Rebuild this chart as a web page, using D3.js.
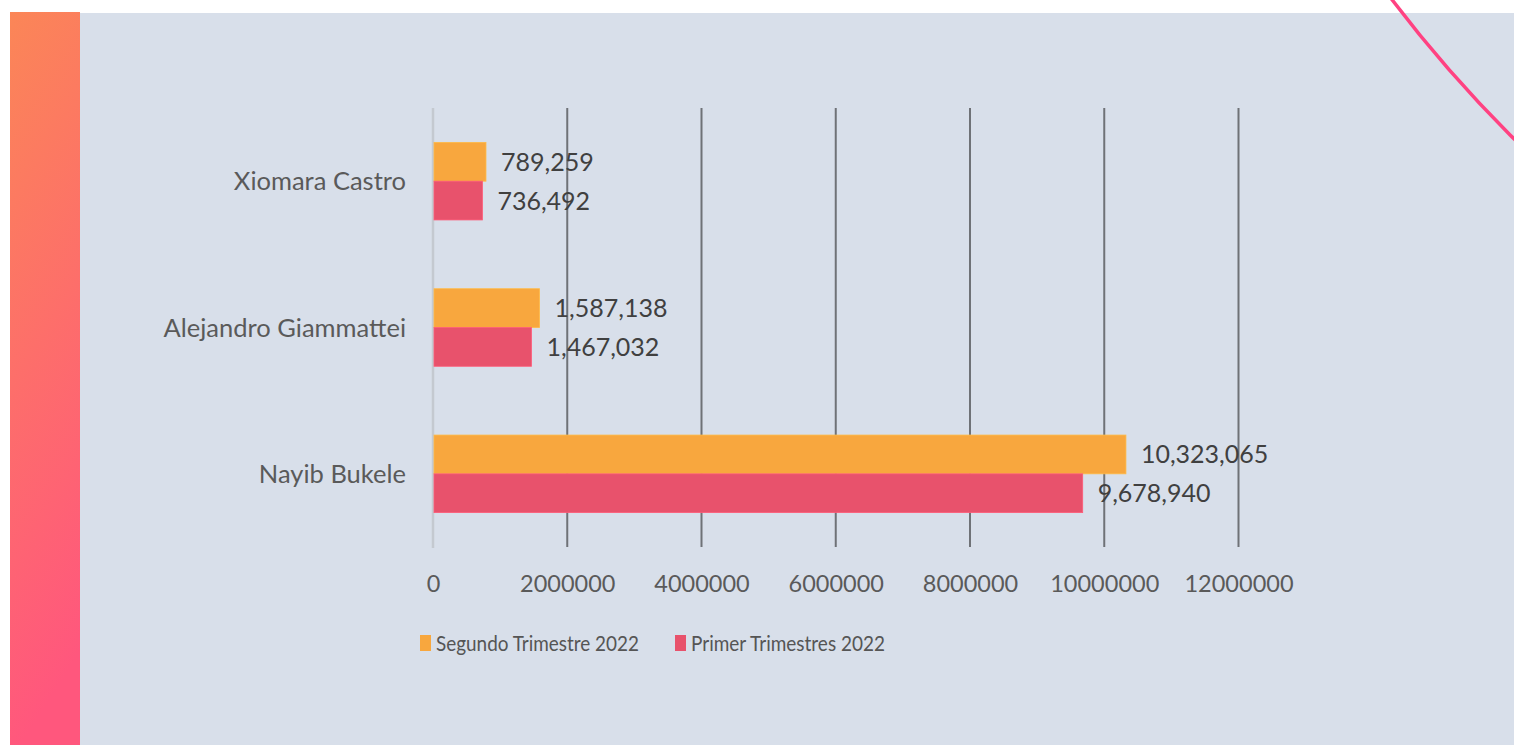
<!DOCTYPE html>
<html><head><meta charset="utf-8">
<script src="https://cdn.jsdelivr.net/npm/d3@7"></script>
<style>html,body{margin:0;padding:0;background:#fff;overflow:hidden}</style>
</head><body>
<svg id="c" width="1514" height="745"></svg>
<script>
const categories = ["Xiomara Castro", "Alejandro Giammattei", "Nayib Bukele"];
const seriesNames = ["Segundo Trimestre 2022", "Primer Trimestres 2022"];
const segundo = [789259, 1587138, 10323065];
const primer = [736492, 1467032, 9678940];
const xTicks = [0, 2000000, 4000000, 6000000, 8000000, 10000000, 12000000];
const colors = ["#f8a73e", "#e8526c"];

const svg = d3.select("#c");
const FONT = "Lato, 'Open Sans', sans-serif";

// background panel and gradient strip
const defs = svg.append("defs");
const g = defs.append("linearGradient").attr("id","strip").attr("x1",0).attr("y1",0).attr("x2",0.15).attr("y2",1);
g.append("stop").attr("offset","0%").attr("stop-color","#fb8657");
g.append("stop").attr("offset","100%").attr("stop-color","#ff577d");
svg.append("rect").attr("x",80).attr("y",13).attr("width",1434).attr("height",732).attr("fill","#d8dfea");
svg.append("rect").attr("x",10).attr("y",12).attr("width",70).attr("height",733).attr("fill","url(#strip)");

const x = d3.scaleLinear().domain([0, 12000000]).range([433, 1238.5]);
const y = d3.scaleBand().domain(categories).range([108, 547]).paddingInner(0.47).paddingOuter(0.235);
const ys = d3.scaleBand().domain(seriesNames).range([0, y.bandwidth()]);

// gridlines
svg.append("g").selectAll("line").data(xTicks.slice(1)).join("line")
  .attr("x1", d => x(d)).attr("x2", d => x(d)).attr("y1", 108).attr("y2", 547)
  .attr("stroke", "#6f7277").attr("stroke-width", 2);
// vertical axis line
svg.append("line").attr("x1", x(0)).attr("x2", x(0)).attr("y1", 108).attr("y2", 548)
  .attr("stroke", "#c4c9d0").attr("stroke-width", 2.5);

// x axis tick labels
const xAxis = d3.axisBottom(x).tickValues(xTicks).tickFormat(d3.format("d")).tickSize(0).tickPadding(0);
const ax = svg.append("g").attr("transform", "translate(0,576)").call(xAxis);
ax.select(".domain").remove();
ax.selectAll("text").attr("font-family", FONT).attr("font-size", 23.5).attr("fill", "#5a5a5a").attr("dy","0.7em");

// y axis labels
const yAxis = d3.axisLeft(y).tickSize(0).tickPadding(0);
const ay = svg.append("g").attr("transform", "translate(406,0)").call(yAxis);
ay.select(".domain").remove();
ay.selectAll("text").attr("font-family", FONT).attr("font-size", 25.5).attr("fill", "#5a5a5a").attr("dy","0.36em");

// bars
const data = [];
categories.forEach((c, i) => {
  data.push({cat: c, s: seriesNames[0], v: segundo[i], col: colors[0]});
  data.push({cat: c, s: seriesNames[1], v: primer[i], col: colors[1]});
});
svg.append("g").selectAll("rect").data(data).join("rect")
  .attr("x", x(0) + 1).attr("y", d => y(d.cat) + ys(d.s))
  .attr("width", d => x(d.v) - x(0) - 1).attr("height", ys.bandwidth())
  .attr("fill", d => d.col).attr("stroke", d => d3.color(d.col).brighter(0.3)).attr("stroke-width", 0.8);

// value labels
svg.append("g").selectAll("text").data(data).join("text")
  .attr("x", d => x(d.v) + 15).attr("y", d => y(d.cat) + ys(d.s) + ys.bandwidth()/2)
  .attr("dy", "0.36em").attr("font-family", FONT).attr("font-size", 25).attr("fill", "#404040")
  .text(d => d3.format(",")(d.v));

// legend
const legX = [420, 675];
const legW = [203, 194];
const lg = svg.append("g").selectAll("g").data(seriesNames).join("g")
  .attr("transform", (d, i) => `translate(${legX[i]},643)`);
lg.append("rect").attr("x", 0).attr("y", -8).attr("width", 11).attr("height", 16)
  .attr("fill", (d, i) => colors[i]);
lg.append("text").attr("x", 16).attr("dy", "0.36em").attr("font-family", FONT).attr("font-size", 21.5)
  .attr("textLength", (d, i) => legW[i]).attr("lengthAdjust", "spacingAndGlyphs")
  .attr("fill", "#555").text(d => d);

// decorative arc
svg.append("circle").attr("cx", 2447).attr("cy", -802).attr("r", 1325)
  .attr("fill", "none").attr("stroke", "#ff4282").attr("stroke-width", 3.5);
</script>
</body></html>
